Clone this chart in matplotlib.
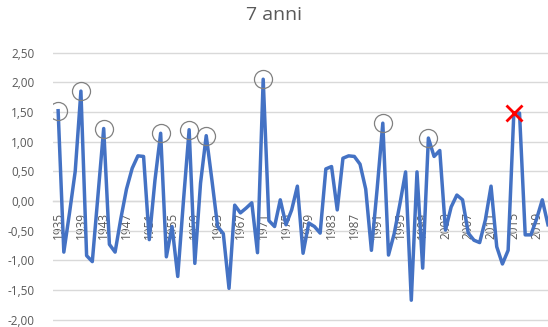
import matplotlib

matplotlib.use("Agg")
import matplotlib.pyplot as plt
from matplotlib.ticker import FuncFormatter

plt.rcParams["font.family"] = ["Open Sans", "DejaVu Sans"]

years = list(range(1935, 2022))
values = [
    1.52, -0.86, -0.20, 0.50, 1.85, -0.92, -1.02, 0.10, 1.22, -0.73,   # 1935-1944
    -0.86, -0.30, 0.20, 0.55, 0.76, 0.75, -0.65, 0.35, 1.14, -0.94,    # 1945-1954
    -0.43, -1.27, 0.00, 1.20, -1.05, 0.30, 1.10, 0.35, -0.43, -0.55,   # 1955-1964
    -1.47, -0.07, -0.20, -0.12, -0.03, -0.87, 2.05, -0.33, -0.43, 0.02,  # 1965-1974
    -0.40, -0.15, 0.25, -0.88, -0.37, -0.43, -0.54, 0.54, 0.58, -0.15,  # 1975-1984
    0.72, 0.76, 0.75, 0.62, 0.20, -0.83, 0.20, 1.31, -0.91, -0.55,     # 1985-1994
    -0.05, 0.49, -1.67, 0.49, -1.13, 1.06, 0.75, 0.85, -0.49, -0.10,   # 1995-2004
    0.10, 0.02, -0.54, -0.66, -0.70, -0.32, 0.25, -0.77, -1.06, -0.83,  # 2005-2014
    1.48, 1.48, -0.57, -0.57, -0.30, 0.02, -0.40,                      # 2015-2021
]
assert len(values) == len(years)

circled_years = [1935, 1939, 1943, 1953, 1958, 1961, 1971, 1992, 2000]
crossed_years = [2015]
tick_years = list(range(1935, 2020, 4))
y_ticks = [-2.0, -1.5, -1.0, -0.5, 0.0, 0.5, 1.0, 1.5, 2.0, 2.5]

W, H = 548, 327
fig = plt.figure(figsize=(W / 100, H / 100), dpi=100)

# plot area in pixels: value 0 sits at y=201, 59.4 px per unit
top_px = 201 - 59.4 * 2.55
bot_px = 201 + 59.4 * 2.05
ax = fig.add_axes([53 / W, (H - bot_px) / H, 1 - 53 / W, (bot_px - top_px) / H])
ax.set_ylim(-2.05, 2.55)
ax.set_xlim(1934.1, 2021.0)

text_col = "#595959"
grid_col = "#d9d9d9"

ax.set_yticks(y_ticks)
ax.yaxis.set_major_formatter(FuncFormatter(lambda v, _: f"{v:.2f}".replace(".", ",")))
ax.yaxis.grid(True, color=grid_col, lw=1.0)
ax.set_axisbelow(True)

ax.set_xticks(tick_years)
ax.set_xticklabels([str(y) for y in tick_years])

for side in ["left", "right", "top"]:
    ax.spines[side].set_visible(False)
ax.spines["bottom"].set_position(("data", 0))
ax.spines["bottom"].set_color(grid_col)
ax.spines["bottom"].set_linewidth(1.0)

ax.tick_params(axis="y", length=0, pad=13.5, labelsize=8.5, labelcolor=text_col)
ax.tick_params(axis="x", length=0, pad=8, labelsize=8.5, labelcolor=text_col,
               labelrotation=90)

ax.plot(years, values, color="#4472C4", lw=2.5, solid_joinstyle="round", zorder=3)

lookup = dict(zip(years, values))
ax.plot(circled_years, [lookup[y] for y in circled_years], "o", ms=13, mfc="none",
        mec="#808080", mew=0.9, zorder=4)
ax.plot(crossed_years, [lookup[y] for y in crossed_years], "x", ms=11, color="red",
        mew=2.0, zorder=5, clip_on=False)

fig.text(0.5, 1 - 15 / H, "7 anni", ha="center", va="center", fontsize=14, color=text_col)

fig.savefig("out.png", dpi=100)
plt.close(fig)
